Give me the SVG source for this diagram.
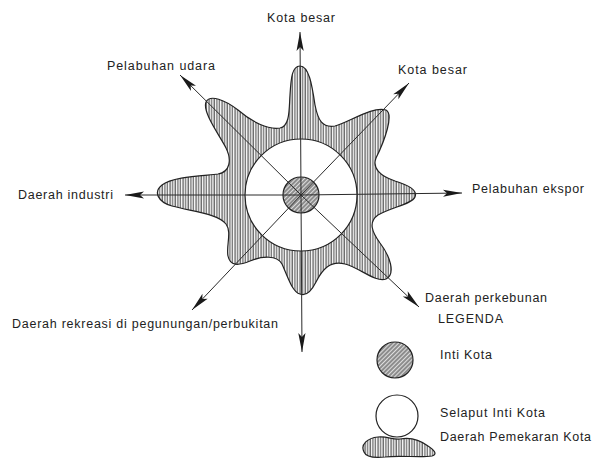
<svg xmlns="http://www.w3.org/2000/svg" width="597" height="459" viewBox="0 0 597 459">
<style>
text{font-family:"Liberation Sans",Arial,sans-serif;font-size:12.5px;fill:#222}
.ax{stroke:#2a2a2a;stroke-width:1;fill:none;marker-end:url(#ah)}
.outline{stroke:#222;stroke-width:1.2}
</style>
<defs>
<pattern id="vh" patternUnits="userSpaceOnUse" width="2.6" height="10">
<rect width="2.6" height="10" fill="#fff"/>
<line x1="1" y1="0" x2="1" y2="10" stroke="#3a3a3a" stroke-width="1"/>
</pattern>
<pattern id="dh" patternUnits="userSpaceOnUse" width="3" height="10" patternTransform="rotate(45)">
<rect width="3" height="10" fill="#ddd"/>
<line x1="1" y1="0" x2="1" y2="10" stroke="#2a2a2a" stroke-width="0.9"/>
</pattern>
<marker id="ah" markerUnits="userSpaceOnUse" markerWidth="24" markerHeight="12" viewBox="-20 -6 22 12" refX="0" refY="0" orient="auto">
<path d="M0,0 L-19,-3.6 L-15,0 L-19,3.6 Z" fill="#1a1a1a"/>
</marker>
</defs>
<g id="expansion">
<path class="outline" fill="url(#vh)" d="M300,66 C309,66 312,85 315,105 C318,120 322,128 335,126 C350,122 372,106 386,110 C394,114 385,140 376,158 C372,168 380,176 395,181 C408,185 418,190 415,197 C412,204 392,207 378,215 C368,222 372,232 380,243 C390,256 396,274 386,279 C376,283 360,268 345,264 C330,260 322,270 316,282 C311,292 305,296 300,294 C292,292 287,275 282,264 C277,255 262,256 250,261 C238,266 230,266 228,256 C226,246 232,232 226,224 C218,214 195,212 172,206 C158,202 153,192 162,185 C172,177 200,176 218,174 C230,172 232,160 226,148 C220,136 202,112 206,102 C210,94 225,100 238,110 C252,122 268,130 280,128 C290,126 289,110 290,95 C291,78 292,66 300,66 Z"/>
</g>
<g id="inner-membrane">
<circle cx="301" cy="195" r="56" fill="#fff" class="outline"/>
</g>
<g id="core">
<circle cx="301" cy="195" r="18" fill="url(#dh)" class="outline"/>
</g>
<g id="connectors">
<line class="ax" x1="301" y1="195" x2="300" y2="32"/>
<line class="ax" x1="301" y1="195" x2="409" y2="83"/>
<line class="ax" x1="301" y1="195" x2="462" y2="193"/>
<line class="ax" x1="301" y1="195" x2="419" y2="307"/>
<line class="ax" x1="301" y1="195" x2="302" y2="352"/>
<line class="ax" x1="301" y1="195" x2="192" y2="310"/>
<line class="ax" x1="301" y1="195" x2="125" y2="195"/>
<line class="ax" x1="301" y1="195" x2="180" y2="75"/>
</g>
<g id="labels">
<text x="267" y="22" textLength="68" lengthAdjust="spacing">Kota besar</text>
<text x="107" y="70" textLength="108" lengthAdjust="spacing">Pelabuhan udara</text>
<text x="398" y="74" textLength="69" lengthAdjust="spacing">Kota besar</text>
<text x="18" y="199" textLength="95" lengthAdjust="spacing">Daerah industri</text>
<text x="472" y="193" textLength="112" lengthAdjust="spacing">Pelabuhan ekspor</text>
<text x="425" y="302" textLength="122" lengthAdjust="spacing">Daerah perkebunan</text>
<text x="12" y="328" textLength="266" lengthAdjust="spacing">Daerah rekreasi di pegunungan/perbukitan</text>
</g>
<g id="legend">
<text x="438" y="323" textLength="65" lengthAdjust="spacing">LEGENDA</text>
<g id="legend-core">
<circle cx="395" cy="360" r="18" fill="url(#dh)" class="outline"/>
<text x="440" y="359" textLength="52" lengthAdjust="spacing">Inti Kota</text>
</g>
<g id="legend-membrane">
<circle cx="397" cy="416" r="21" fill="#fff" class="outline"/>
<text x="440" y="417" textLength="105" lengthAdjust="spacing">Selaput Inti Kota</text>
</g>
<g id="legend-expansion">
<path class="outline" fill="url(#vh)" d="M364,452 C360,444 368,438 378,437 C388,436 392,440 400,439 C410,437 420,440 428,446 C434,450 438,454 432,456 C420,458 400,455 385,457 C375,458 366,457 364,452 Z"/>
<text x="440" y="441" textLength="151" lengthAdjust="spacing">Daerah Pemekaran Kota</text>
</g>
</g>
</svg>
